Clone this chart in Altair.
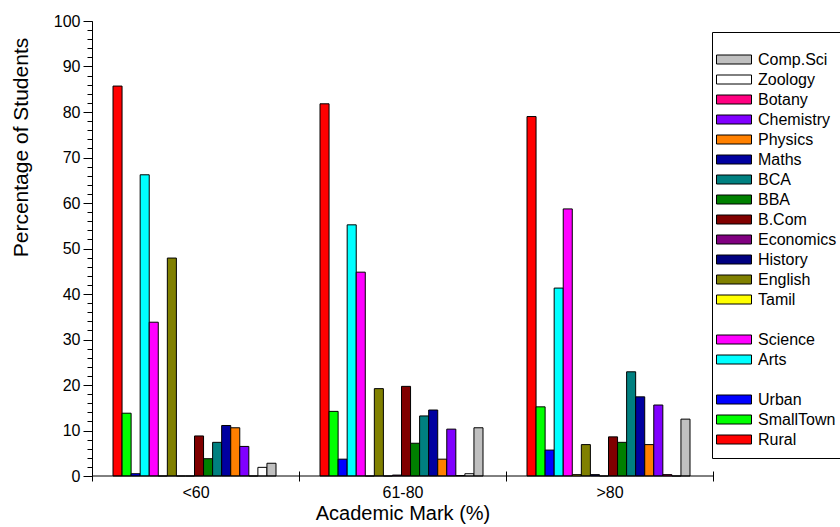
import altair as alt
import pandas as pd

groups = ["<60", "61-80", ">80"]
categories = ["Rural", "SmallTown", "Urban", "Arts", "Science", "Tamil", "English",
              "History", "Economics", "B.Com", "BBA", "BCA", "Maths", "Physics",
              "Chemistry", "Botany", "Zoology", "Comp.Sci"]

rural = [85.7, 81.8, 79.0]
smalltown = [13.8, 14.2, 15.2]
urban = [0.5, 3.7, 5.7]
arts = [66.2, 55.2, 41.3]
science = [33.8, 44.8, 58.7]
tamil = [0.0, 0.0, 0.3]
english = [47.9, 19.2, 6.9]
history = [0.0, 0.0, 0.3]
economics = [0.0, 0.2, 0.0]
bcom = [8.8, 19.7, 8.6]
bba = [3.8, 7.2, 7.4]
bca = [7.4, 13.2, 22.9]
maths = [11.1, 14.5, 17.4]
physics = [10.6, 3.7, 6.9]
chemistry = [6.5, 10.3, 15.6]
botany = [0.0, 0.1, 0.3]
zoology = [1.9, 0.5, 0.0]
compsci = [2.8, 10.6, 12.5]

series = [rural, smalltown, urban, arts, science, tamil, english, history, economics,
          bcom, bba, bca, maths, physics, chemistry, botany, zoology, compsci]

legend_order = ["Comp.Sci", "Zoology", "Botany", "Chemistry", "Physics", "Maths", "BCA",
                "BBA", "B.Com", "Economics", "History", "English", "Tamil", " ",
                "Science", "Arts", "  ", "Urban", "SmallTown", "Rural"]
legend_fill = ["#C0C0C0", "#FFFFFF", "#FF0080", "#8000FF", "#FF8000", "#0000A0", "#008080",
               "#008000", "#800000", "#800080", "#000080", "#808000", "#FFFF00", "#FFFFFF",
               "#FF00FF", "#00FFFF", "#FFFFFF", "#0000FF", "#00FF00", "#FF0000"]
legend_stroke = ["black"] * 13 + ["white"] + ["black"] * 2 + ["white"] + ["black"] * 3

rows = []
for cat, vals in zip(categories, series):
    for g, v in zip(groups, vals):
        rows.append({"group": g, "category": cat, "value": v})
df = pd.DataFrame(rows)

FONT = "Liberation Sans"

leg = dict(
    title=" ", titleFontSize=2, titlePadding=5,
    orient="none", legendX=620, legendY=11,
    strokeColor="black", padding=10,
    symbolType="M-1.6,-0.45H1.9V0.45H-1.6Z", symbolSize=400,
    symbolStrokeWidth=1, symbolOpacity=1,
    labelFontSize=16, labelOffset=15, rowPadding=1,
    labelColor="black", labelFont=FONT,
)

bars = alt.Chart(df).mark_bar(strokeWidth=1, opacity=1).encode(
    x=alt.X("group:N", sort=groups,
            scale=alt.Scale(paddingInner=0, paddingOuter=0),
            axis=alt.Axis(title="Academic Mark (%)", tickBand="extent", tickSize=10,
                          offset=-5, domain=False, labelAngle=0, labelFontSize=16,
                          titleFontSize=20, labelPadding=3, titlePadding=3,
                          tickColor="black", labelColor="black", titleColor="black",
                          titleFontWeight="normal", tickWidth=1)),
    xOffset=alt.XOffset("category:N",
                        scale=alt.Scale(domain=categories, paddingInner=0, paddingOuter=0,
                                        range=[21, 184])),
    y=alt.Y("value:Q", scale=alt.Scale(domain=[0, 100], nice=False),
            axis=alt.Axis(title="Percentage of Students", values=list(range(0, 101, 10)),
                          tickSize=9, labelFontSize=16, titleFontSize=21, labelPadding=3,
                          titleX=-65, titleY=126, titleBaseline="alphabetic",
                          titleAlign="center", titleAngle=270,
                          domainColor="black", tickColor="black",
                          labelColor="black", titleColor="black", titleFontWeight="normal",
                          grid=False)),
    color=alt.Color("category:N", scale=alt.Scale(domain=legend_order, range=legend_fill),
                    legend=alt.Legend(**leg)),
    stroke=alt.Stroke("category:N", scale=alt.Scale(domain=legend_order, range=legend_stroke),
                      legend=alt.Legend(**leg)),
)

baseline = alt.Chart(pd.DataFrame({"v": [0]})).mark_rule(color="black", strokeWidth=1).encode(
    y=alt.Y("v:Q", scale=alt.Scale(domain=[0, 100], nice=False),
            axis=alt.Axis(orient="left", values=list(range(0, 101, 2)), labels=False,
                          tickSize=5, domain=False, title=None, grid=False,
                          tickColor="black"))
)

chart = alt.layer(bars, baseline).resolve_scale(y="independent").properties(
    width=621, height=455,
    autosize=alt.AutoSizeParams(type="none"),
    padding={"left": 92, "top": 21, "right": 127, "bottom": 51},
).configure(font=FONT).configure_view(stroke=None).configure_axis(grid=False)

chart.save("out.html", embed_options={"renderer": "svg", "actions": False})
